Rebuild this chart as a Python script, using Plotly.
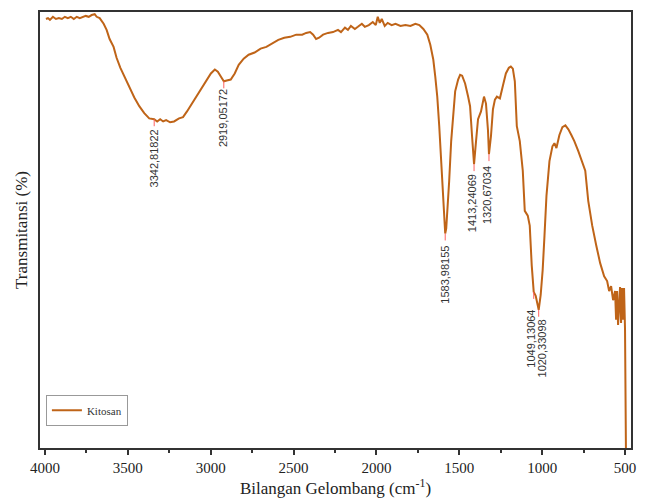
import plotly.graph_objects as go

# Wavenumber (cm-1) and transmittance (arbitrary %)
wavenumber = [3994, 3982, 3970, 3952, 3934, 3916, 3898, 3880, 3862, 3844, 3826, 3808, 3790, 3772,
              3754, 3736, 3718, 3700, 3688, 3670, 3646, 3628, 3610, 3586, 3568, 3545, 3521, 3491,
              3461, 3431, 3401, 3371, 3341, 3323, 3305, 3287, 3269, 3245, 3221, 3191, 3167, 3143,
              3113, 3083, 3053, 3023, 2999, 2975, 2957, 2939, 2921, 2903, 2879, 2855, 2831, 2801,
              2771, 2735, 2699, 2664, 2628, 2592, 2556, 2520, 2484, 2448, 2424, 2400, 2382, 2364,
              2346, 2322, 2292, 2262, 2232, 2214, 2190, 2172, 2154, 2130, 2112, 2088, 2070, 2046,
              2022, 2004, 1992, 1980, 1968, 1950, 1932, 1908, 1885, 1855, 1825, 1795, 1765, 1741,
              1717, 1693, 1675, 1657, 1645, 1633, 1621, 1609, 1597, 1591, 1585, 1579, 1573, 1561,
              1549, 1537, 1525, 1507, 1495, 1483, 1465, 1447, 1435, 1423, 1411, 1399, 1387, 1369,
              1351, 1339, 1327, 1321, 1309, 1297, 1285, 1273, 1255, 1237, 1219, 1201, 1189, 1177,
              1165, 1153, 1135, 1117, 1105, 1087, 1075, 1063, 1051, 1039, 1027, 1021, 1009, 997,
              986, 974, 956, 938, 926, 914, 896, 878, 860, 842, 824, 806, 782, 758, 740, 722, 698,
              674, 650, 626, 608, 596, 584, 572, 560, 554, 548, 542, 536, 530, 524, 518, 512, 506,
              500, 497, 494]
transmittance = [98.4, 98.6, 98.2, 98.9, 98.4, 98.6, 98.4, 98.9, 98.6, 98.9, 98.4, 98.9, 98.6, 98.9,
                 99.1, 98.9, 99.3, 99.5, 98.9, 98.6, 97.3, 95.9, 93.8, 92.0, 89.5, 87.2, 85.2, 82.7,
                 80.4, 78.4, 76.8, 75.6, 75.4, 74.9, 75.4, 74.9, 75.2, 74.7, 74.9, 75.6, 75.9, 77.2,
                 79.0, 80.6, 82.5, 84.3, 85.9, 86.8, 86.3, 85.2, 84.1, 84.3, 84.5, 85.9, 87.9, 89.3,
                 90.2, 90.7, 91.6, 92.0, 92.9, 93.6, 94.1, 94.3, 94.8, 94.8, 95.2, 95.4, 94.8, 93.8,
                 94.1, 94.8, 95.2, 95.4, 95.9, 95.4, 96.4, 95.9, 96.8, 96.1, 96.6, 97.3, 96.6, 97.0,
                 97.7, 97.0, 98.9, 97.5, 98.4, 96.8, 97.5, 97.0, 97.3, 96.8, 97.0, 96.8, 97.3, 97.0,
                 96.1, 94.8, 92.5, 89.1, 85.2, 80.6, 73.8, 65.8, 56.7, 52.6, 49.2, 50.3, 53.3, 61.3,
                 70.4, 77.2, 81.8, 84.5, 85.6, 85.4, 83.6, 80.6, 78.4, 71.5, 65.1, 70.4, 75.4, 77.2,
                 80.6, 79.0, 72.9, 67.4, 71.5, 77.7, 79.9, 80.6, 80.2, 83.1, 85.9, 87.2, 87.5, 87.0,
                 84.1, 73.8, 70.4, 63.6, 54.4, 53.3, 51.0, 41.9, 35.8, 34.9, 32.8, 31.7, 35.1, 40.8,
                 48.7, 57.9, 65.8, 69.2, 69.9, 68.8, 71.8, 73.6, 74.0, 73.1, 71.8, 70.4, 68.1, 65.8,
                 63.6, 56.7, 51.0, 46.5, 42.4, 39.4, 38.3, 36.0, 37.1, 33.9, 36.0, 29.4, 36.0, 28.2,
                 33.9, 36.9, 28.7, 36.7, 29.4, 36.7, 27.1, 11.2, -3.0]

peak_labels = ["3342,81822", "2919,05172", "1583,98155", "1413,24069", "1320,67034",
               "1049,13064", "1020,33098"]
peak_x = [3341, 2921, 1585, 1411, 1321, 1051, 1021]
peak_y = [75.4, 84.1, 49.2, 65.1, 67.4, 35.8, 31.7]
label_xshift = [0, 0, 0, -2, -2, -3, 3]
label_yshift = [-8, -6, -10, -8, -10, -16, -8]

tick_vals = [4000, 3500, 3000, 2500, 2000, 1500, 1000, 500]
tick_text = ["4000", "3500", "3000", "2500", "2000", "1500", "1000", "500"]

line_color = "#BF6418"

fig = go.Figure()
fig.add_trace(go.Scatter(x=wavenumber, y=transmittance, mode="lines", name="Kitosan",
                         line=dict(color=line_color, width=2)))

for lab, px, py, xs, ys in zip(peak_labels, peak_x, peak_y, label_xshift, label_yshift):
    fig.add_shape(type="line", x0=px, x1=px, y0=py, y1=py - 1.6,
                  line=dict(color="#FF6060", width=1))
    fig.add_annotation(x=px, y=py, text=lab, textangle=-90, showarrow=False,
                       xanchor="center", yanchor="top", xshift=xs, yshift=ys,
                       font=dict(family="Liberation Sans, Arial", size=11, color="#333333"))

serif = "Liberation Serif, Times New Roman, serif"
fig.update_layout(
    width=646, height=502,
    margin=dict(l=40, r=11, t=10, b=53),
    plot_bgcolor="white", paper_bgcolor="white",
    showlegend=True,
    legend=dict(x=0.01, y=0.122, xanchor="left", yanchor="top",
                bordercolor="#999999", borderwidth=1, bgcolor="white",
                font=dict(family=serif, size=11, color="#333333"),
                itemwidth=30, tracegroupgap=0),
    xaxis=dict(range=[4030, 464], tickvals=tick_vals, ticktext=tick_text,
               ticks="outside", ticklen=5, tickwidth=2, tickcolor="#333333",
               minor=dict(dtick=250, tick0=0, ticks="outside", ticklen=3, tickwidth=2,
                          tickcolor="#333333"),
               showline=True, linecolor="#333333", linewidth=2, mirror=True,
               showgrid=False, zeroline=False,
               tickfont=dict(family=serif, size=15, color="#222222"),
               title=dict(text="Bilangan Gelombang (cm<sup>-1</sup>)", standoff=4,
                          font=dict(family=serif, size=17, color="#222222"))),
    yaxis=dict(range=[0, 100], showticklabels=False, ticks="",
               showline=True, linecolor="#333333", linewidth=2, mirror=True,
               showgrid=False, zeroline=False,
               title=dict(text="Transmitansi (%)", standoff=6,
                          font=dict(family=serif, size=17, color="#222222"))),
)

fig.write_html("out.html")
